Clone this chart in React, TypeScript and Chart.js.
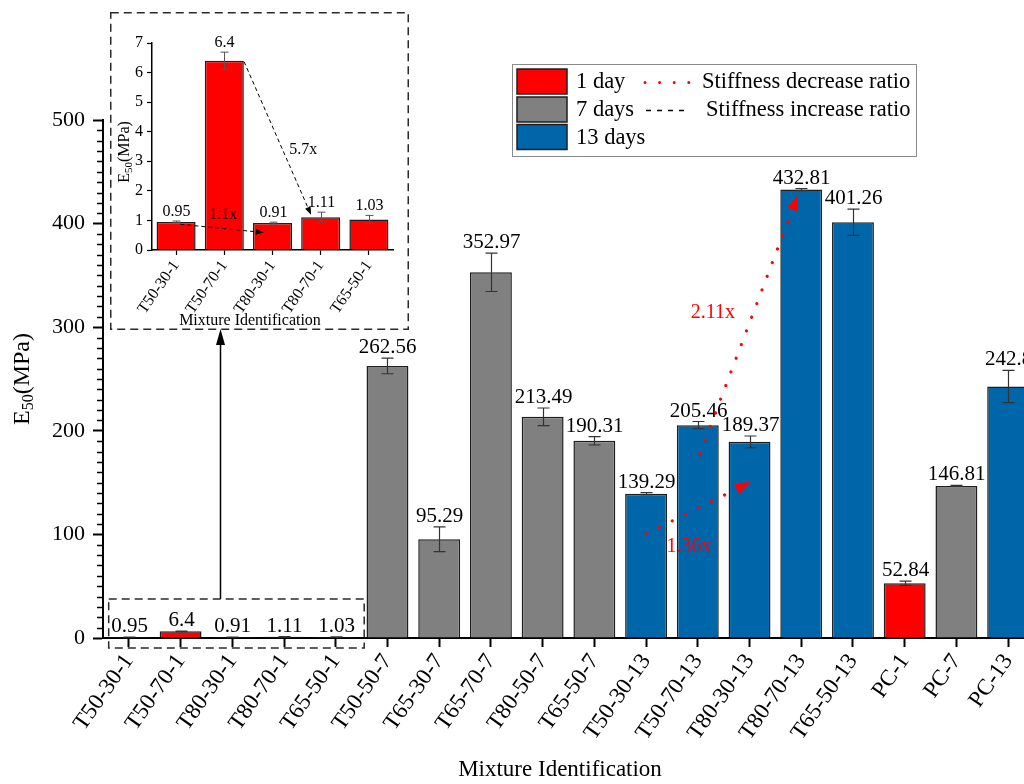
import React, { useEffect, useRef } from 'react';
import { Chart, registerables } from 'chart.js';

Chart.register(...registerables);

const FONT = "'Liberation Serif', 'Times New Roman', 'DejaVu Serif', serif";

// ---------- data ----------
const categories = [
  'T50-30-1', 'T50-70-1', 'T80-30-1', 'T80-70-1', 'T65-50-1',
  'T50-50-7', 'T65-30-7', 'T65-70-7', 'T80-50-7', 'T65-50-7',
  'T50-30-13', 'T50-70-13', 'T80-30-13', 'T80-70-13', 'T65-50-13',
  'PC-1', 'PC-7', 'PC-13',
];
const e50Values = [
  0.95, 6.4, 0.91, 1.11, 1.03,
  262.56, 95.29, 352.97, 213.49, 190.31,
  139.29, 205.46, 189.37, 432.81, 401.26,
  52.84, 146.81, 242.8,
];
const e50Errors = [
  0.03, 0.29, 0.03, 0.17, 0.14,
  7.5, 12, 18.5, 8.5, 4,
  1, 3.5, 5.6, 1, 12.7,
  2, 0.5, 15.6,
];
const curingAge = [
  '1 day', '1 day', '1 day', '1 day', '1 day',
  '7 days', '7 days', '7 days', '7 days', '7 days',
  '13 days', '13 days', '13 days', '13 days', '13 days',
  '1 day', '7 days', '13 days',
];
const seriesNames = ['1 day', '7 days', '13 days'];
const seriesColors = ['#ff0000', '#808080', '#0066aa'];
const lineLegend = ['Stiffness decrease ratio', 'Stiffness increase ratio'];

const mainYMax = 500;
const mainYStep = 100;
const mainYMinorStep = 10;

// inset (1-day zoom)
const insetCount = 5;
const insetCategories = categories.slice(0, insetCount);
const insetValues = e50Values.slice(0, insetCount);
const insetErrors = e50Errors.slice(0, insetCount);
const insetYMax = 7;

// ratio annotations: [fromIndex, fromValue, toIndex, toValue]
const mainRatioLabels = ['1.36x', '2.11x'];
const mainRatioArrows = [
  [10, 100.5, 12.03, 150.7],
  [11.04, 177.8, 12.94, 428],
];
const mainRatioLabelPos = [
  [10.83, 88.2],
  [11.29, 313.7],
];
const insetRatioLabels = ['5.7x', '1.1x'];
const insetRatioArrows = [
  [1.41, 6.37, 2.8, 1.19],
  [0.09, 0.87, 1.82, 0.59],
];
const insetRatioLabelPos = [
  [2.64, 3.39],
  [0.98, 1.19],
];

// layout
const INSET = { left: 110, top: 12, width: 299, height: 318 };
const MAIN_W = 1060;
const MAIN_H = 784;

// ---------- helpers ----------
function drawArrow(ctx: CanvasRenderingContext2D, x1: number, y1: number, x2: number, y2: number,
  o: { color: string; width: number; dash: number[]; cap?: CanvasLineCap; headLen: number; headHalf: number }) {
  const dx = x2 - x1, dy = y2 - y1;
  const len = Math.hypot(dx, dy);
  const ux = dx / len, uy = dy / len;
  const bx = x2 - ux * o.headLen, by = y2 - uy * o.headLen;
  ctx.save();
  ctx.strokeStyle = o.color;
  ctx.fillStyle = o.color;
  ctx.lineWidth = o.width;
  ctx.lineCap = o.cap || 'butt';
  ctx.setLineDash(o.dash);
  ctx.beginPath();
  ctx.moveTo(x1, y1);
  ctx.lineTo(bx, by);
  ctx.stroke();
  ctx.setLineDash([]);
  ctx.beginPath();
  ctx.moveTo(x2, y2);
  ctx.lineTo(bx - uy * o.headHalf, by + ux * o.headHalf);
  ctx.lineTo(bx + uy * o.headHalf, by - ux * o.headHalf);
  ctx.closePath();
  ctx.fill();
  ctx.restore();
}

function drawE50Title(ctx: CanvasRenderingContext2D, cx: number, cy: number, size: number, subSize: number, shift: number) {
  const parts: [string, number, number][] = [['E', size, 0], ['50', subSize, shift], ['(MPa)', size, 0]];
  ctx.save();
  let total = 0;
  const widths = parts.map(([t, s]) => {
    ctx.font = `${s}px ${FONT}`;
    const w = ctx.measureText(t).width;
    total += w;
    return w;
  });
  ctx.translate(cx, cy);
  ctx.rotate(-Math.PI / 2);
  ctx.fillStyle = '#000';
  ctx.textBaseline = 'middle';
  ctx.textAlign = 'left';
  let x = -total / 2;
  parts.forEach(([t, s, sh], i) => {
    ctx.font = `${s}px ${FONT}`;
    ctx.fillText(t, x, sh);
    x += widths[i];
  });
  ctx.restore();
}

function barDecor(values: number[], errors: number[], o: { font: number; gap: number; capHalf: number; errColor: string; errWidth: number }) {
  return {
    id: 'barDecor',
    afterDatasetsDraw(chart: any) {
      const ctx: CanvasRenderingContext2D = chart.ctx;
      const xs = chart.scales.x, ys = chart.scales.y;
      ctx.save();
      values.forEach((v, i) => {
        const x = Math.round(xs.getPixelForValue(i)) + 0.5;
        const yTop = ys.getPixelForValue(v + errors[i]);
        const yBot = ys.getPixelForValue(v - errors[i]);
        ctx.strokeStyle = o.errColor;
        ctx.lineWidth = o.errWidth;
        ctx.beginPath();
        ctx.moveTo(x, yTop); ctx.lineTo(x, yBot);
        ctx.moveTo(x - o.capHalf, yTop); ctx.lineTo(x + o.capHalf, yTop);
        ctx.moveTo(x - o.capHalf, yBot); ctx.lineTo(x + o.capHalf, yBot);
        ctx.stroke();
        ctx.fillStyle = '#000';
        ctx.font = `${o.font}px ${FONT}`;
        ctx.textAlign = 'center';
        ctx.textBaseline = 'alphabetic';
        ctx.fillText(String(v), x, Math.min(yTop, ys.getPixelForValue(v)) - o.gap);
      });
      ctx.restore();
    },
  };
}

const mainExtras = {
  id: 'mainExtras',
  afterDraw(chart: any) {
    const ctx: CanvasRenderingContext2D = chart.ctx;
    const xs = chart.scales.x, ys = chart.scales.y;
    const left = chart.chartArea.left;

    // minor ticks on y
    ctx.save();
    ctx.strokeStyle = '#000';
    ctx.lineWidth = 1.5;
    ctx.beginPath();
    for (let v = mainYMinorStep; v < mainYMax; v += mainYMinorStep) {
      if (v % mainYStep === 0) continue;
      const y = Math.round(ys.getPixelForValue(v)) + 0.5;
      ctx.moveTo(left - 6, y);
      ctx.lineTo(left, y);
    }
    ctx.stroke();
    ctx.restore();

    // titles
    drawE50Title(ctx, 23, (chart.chartArea.top + chart.chartArea.bottom) / 2, 24, 16, 6);
    ctx.save();
    ctx.fillStyle = '#000';
    ctx.font = `23px ${FONT}`;
    ctx.textAlign = 'center';
    ctx.textBaseline = 'middle';
    ctx.fillText('Mixture Identification', 560, 770);
    ctx.restore();

    // dashed box around 1-day bars
    ctx.save();
    ctx.strokeStyle = '#2a2a2a';
    ctx.lineWidth = 1.5;
    ctx.setLineDash([8, 5]);
    const bx1 = xs.getPixelForValue(-0.39), bx2 = xs.getPixelForValue(4.55);
    const by1 = ys.getPixelForValue(37.7), by2 = ys.getPixelForValue(-9.7);
    ctx.strokeRect(bx1, by1, bx2 - bx1, by2 - by1);
    // inset box
    ctx.strokeRect(INSET.left + 0.75, INSET.top + 0.75, INSET.width - 1.5, INSET.height - 1.5);
    ctx.restore();

    // solid arrow from zoom box up to inset
    const ax = Math.round(xs.getPixelForValue(1.77)) + 0.5;
    drawArrow(ctx, ax, by1, ax, INSET.top + INSET.height - 1, { color: '#000', width: 1.5, dash: [], headLen: 16, headHalf: 4.5 });

    // red ratio arrows
    mainRatioArrows.forEach(([i1, v1, i2, v2]) => {
      drawArrow(ctx, xs.getPixelForValue(i1), ys.getPixelForValue(v1), xs.getPixelForValue(i2), ys.getPixelForValue(v2),
        { color: '#ff0000', width: 3.2, dash: [0.001, 14.6], cap: 'round', headLen: 16, headHalf: 5.5 });
    });
    ctx.save();
    ctx.fillStyle = '#ff0000';
    ctx.font = `20px ${FONT}`;
    ctx.textAlign = 'center';
    ctx.textBaseline = 'middle';
    mainRatioLabels.forEach((t, k) => {
      const [i, v] = mainRatioLabelPos[k];
      ctx.fillText(t, xs.getPixelForValue(i), ys.getPixelForValue(v));
    });
    ctx.restore();

    // legend
    ctx.save();
    ctx.fillStyle = '#fff';
    ctx.fillRect(512, 64, 405, 93);
    ctx.strokeStyle = '#8a8a8a';
    ctx.lineWidth = 1;
    ctx.strokeRect(512.5, 64.5, 404, 92);
    const rows = [81.5, 109.5, 137];
    seriesNames.forEach((name, k) => {
      ctx.fillStyle = seriesColors[k];
      ctx.fillRect(517, rows[k] - 12.5, 50, 25);
      ctx.strokeStyle = '#1e1e1e';
      ctx.lineWidth = 1.5;
      ctx.strokeRect(517, rows[k] - 12.5, 50, 25);
      ctx.fillStyle = '#000';
      ctx.font = `22.5px ${FONT}`;
      ctx.textAlign = 'left';
      ctx.textBaseline = 'middle';
      ctx.fillText(name, 576, rows[k] + 1);
    });
    // dotted red sample
    ctx.strokeStyle = '#ff0000';
    ctx.lineWidth = 3;
    ctx.lineCap = 'round';
    ctx.setLineDash([0.001, 14.6]);
    ctx.beginPath();
    ctx.moveTo(645, rows[0] + 1);
    ctx.lineTo(690, rows[0] + 1);
    ctx.stroke();
    // dashed black sample
    ctx.strokeStyle = '#000';
    ctx.lineWidth = 1.5;
    ctx.lineCap = 'butt';
    ctx.setLineDash([5, 6]);
    ctx.beginPath();
    ctx.moveTo(646, rows[1] + 1);
    ctx.lineTo(690, rows[1] + 1);
    ctx.stroke();
    ctx.setLineDash([]);
    ctx.fillStyle = '#000';
    ctx.font = `22.5px ${FONT}`;
    ctx.textAlign = 'left';
    ctx.textBaseline = 'middle';
    ctx.fillText(lineLegend[0], 702, rows[0] + 1);
    ctx.fillText(lineLegend[1], 706, rows[1] + 1);
    ctx.restore();
  },
};

const insetExtras = {
  id: 'insetExtras',
  afterDraw(chart: any) {
    const ctx: CanvasRenderingContext2D = chart.ctx;
    const xs = chart.scales.x, ys = chart.scales.y;
    drawE50Title(ctx, 15, 140, 16, 11, 4);
    ctx.save();
    ctx.fillStyle = '#000';
    ctx.font = `16px ${FONT}`;
    ctx.textAlign = 'center';
    ctx.textBaseline = 'middle';
    ctx.fillText('Mixture Identification', 140, 309);
    ctx.restore();

    insetRatioArrows.forEach(([i1, v1, i2, v2]) => {
      drawArrow(ctx, xs.getPixelForValue(i1), ys.getPixelForValue(v1), xs.getPixelForValue(i2), ys.getPixelForValue(v2),
        { color: '#000', width: 1, dash: [4, 3], headLen: 8, headHalf: 3 });
    });
    ctx.save();
    ctx.fillStyle = '#000';
    ctx.font = `16px ${FONT}`;
    ctx.textAlign = 'center';
    ctx.textBaseline = 'middle';
    insetRatioLabels.forEach((t, k) => {
      const [i, v] = insetRatioLabelPos[k];
      ctx.fillText(t, xs.getPixelForValue(i), ys.getPixelForValue(v));
    });
    ctx.restore();
  },
};

export default function App() {
  const mainRef = useRef<HTMLCanvasElement>(null);
  const insetRef = useRef<HTMLCanvasElement>(null);

  useEffect(() => {
    const datasets = seriesNames.map((name, s) => ({
      label: name,
      data: e50Values.map((v, i) => (curingAge[i] === name ? v : null)),
      backgroundColor: seriesColors[s],
      borderColor: '#1e1e1e',
      borderWidth: 1.5,
      barPercentage: 0.81,
      categoryPercentage: 1,
    }));

    const main = new Chart(mainRef.current!, {
      type: 'bar',
      data: { labels: categories, datasets },
      options: {
        animation: false,
        responsive: false,
        maintainAspectRatio: false,
        devicePixelRatio: 1,
        layout: { padding: { top: 120, right: MAIN_W - 1034, left: 0, bottom: 0 } },
        plugins: { legend: { display: false }, tooltip: { enabled: false } },
        scales: {
          x: {
            stacked: true,
            grid: { display: true, offset: false, drawOnChartArea: false, drawTicks: true, tickLength: 9, tickWidth: 2, tickColor: '#000' },
            border: { display: true, color: '#000', width: 2 },
            ticks: { autoSkip: false, minRotation: 55, maxRotation: 55, color: '#000', font: { family: FONT, size: 23 }, padding: 2 },
            afterFit: (s: any) => { s.height = MAIN_H - 638; },
          },
          y: {
            min: 0,
            max: mainYMax,
            ticks: { stepSize: mainYStep, color: '#000', font: { family: FONT, size: 22 }, padding: 8 },
            grid: { display: true, drawOnChartArea: false, drawTicks: true, tickLength: 10, tickWidth: 2, tickColor: '#000' },
            border: { display: true, color: '#000', width: 2 },
            afterFit: (s: any) => { s.width = 103; },
          },
        },
      } as any,
      plugins: [barDecor(e50Values, e50Errors, { font: 21, gap: 5, capHalf: 6, errColor: '#333', errWidth: 1.2 }), mainExtras],
    });

    const inset = new Chart(insetRef.current!, {
      type: 'bar',
      data: {
        labels: insetCategories,
        datasets: [{
          label: seriesNames[0],
          data: insetValues,
          backgroundColor: seriesColors[0],
          borderColor: '#1e1e1e',
          borderWidth: 1.5,
          barPercentage: 0.81,
          categoryPercentage: 1,
        }],
      },
      options: {
        animation: false,
        responsive: false,
        maintainAspectRatio: false,
        devicePixelRatio: 1,
        layout: { padding: { top: 31, right: 16, left: 0, bottom: 0 } },
        plugins: { legend: { display: false }, tooltip: { enabled: false } },
        scales: {
          x: {
            grid: { display: true, offset: false, drawOnChartArea: false, drawTicks: true, tickLength: 5, tickWidth: 1.2, tickColor: '#000' },
            border: { display: true, color: '#000', width: 1.5 },
            ticks: { autoSkip: false, minRotation: 55, maxRotation: 55, color: '#000', font: { family: FONT, size: 16 }, padding: 2 },
            afterFit: (s: any) => { s.height = 80; },
          },
          y: {
            min: 0,
            max: insetYMax,
            ticks: { stepSize: 1, color: '#000', font: { family: FONT, size: 16 }, padding: 4 },
            grid: { display: true, drawOnChartArea: false, drawTicks: true, tickLength: 5, tickWidth: 1.2, tickColor: '#000' },
            border: { display: true, color: '#000', width: 1.5 },
            afterFit: (s: any) => { s.width = 42; },
          },
        },
      } as any,
      plugins: [barDecor(insetValues, insetErrors, { font: 16, gap: 5, capHalf: 4, errColor: '#555', errWidth: 1 }), insetExtras],
    });

    return () => {
      main.destroy();
      inset.destroy();
    };
  }, []);

  return (
    <div style={{ position: 'fixed', left: 0, top: 0, width: 1024, height: 784, overflow: 'hidden', background: '#fff' }}>
      <canvas ref={mainRef} width={MAIN_W} height={MAIN_H}
        style={{ position: 'absolute', left: 0, top: 0, width: MAIN_W, height: MAIN_H }} />
      <canvas ref={insetRef} width={INSET.width} height={INSET.height}
        style={{ position: 'absolute', left: INSET.left, top: INSET.top, width: INSET.width, height: INSET.height }} />
    </div>
  );
}
